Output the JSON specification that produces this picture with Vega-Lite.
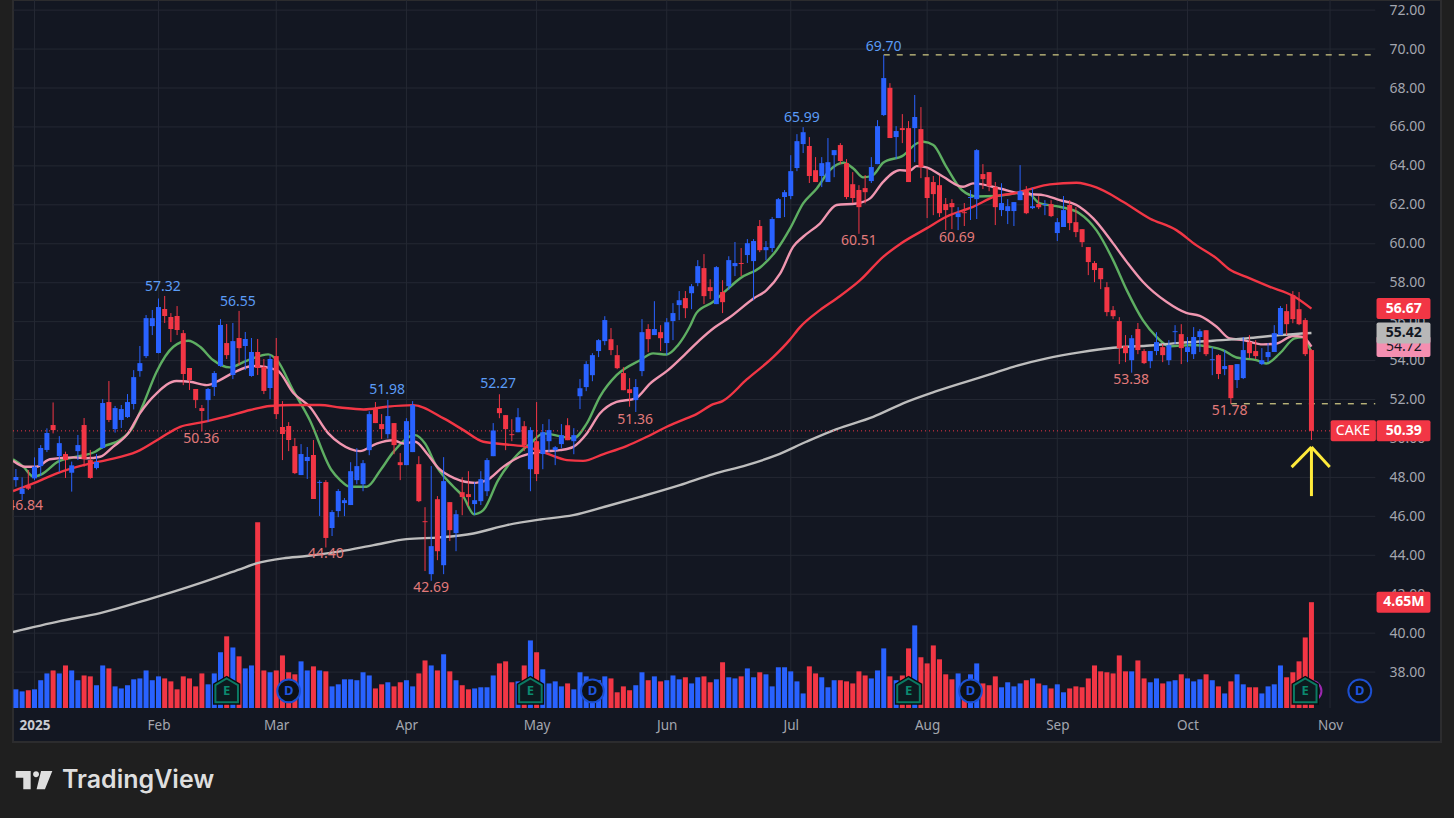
{"$schema":"https://vega.github.io/schema/vega-lite/v6.json","width":1428,"height":742,"autosize":{"type":"none"},"padding":{"left":13,"top":0,"right":13,"bottom":76},"background":"#1f1f1f","view":{"fill":"#131722","stroke":"#2c2c2e","strokeWidth":2},"config":{"scale":{"continuousPadding":0}},
"datasets":{
"bars":[
{"i":-3,"o":47.86,"h":48.43,"l":47.52,"c":48.02,"v":0.82,"s":"up"},{"i":-2,"o":47.15,"h":48.0,"l":46.84,"c":47.42,"v":0.73,"s":"up"},{"i":-1,"o":47.56,"h":48.38,"l":47.35,"c":47.42,"v":0.78,"s":"down"},{"i":0,"o":47.95,"h":49.03,"l":47.86,"c":48.55,"v":0.82,"s":"up"},{"i":1,"o":48.58,"h":49.66,"l":48.07,"c":49.51,"v":1.22,"s":"up"},{"i":2,"o":49.41,"h":50.52,"l":49.3,"c":50.28,"v":1.52,"s":"up"},{"i":3,"o":50.69,"h":51.85,"l":50.26,"c":50.43,"v":1.65,"s":"down"},{"i":4,"o":49.1,"h":50.12,"l":48.28,"c":49.76,"v":1.52,"s":"up"},{"i":5,"o":49.2,"h":49.32,"l":47.97,"c":48.89,"v":1.87,"s":"down"},{"i":6,"o":48.24,"h":48.81,"l":47.27,"c":48.62,"v":1.65,"s":"up"},{"i":7,"o":49.35,"h":50.18,"l":48.89,"c":49.66,"v":1.22,"s":"up"},{"i":8,"o":50.69,"h":51.05,"l":48.55,"c":48.94,"v":1.43,"s":"down"},{"i":9,"o":48.89,"h":49.41,"l":47.93,"c":47.97,"v":1.39,"s":"down"},{"i":10,"o":48.48,"h":49.2,"l":48.41,"c":48.79,"v":1.0,"s":"up"},{"i":11,"o":49.51,"h":52.02,"l":49.47,"c":51.82,"v":1.87,"s":"up"},{"i":12,"o":51.87,"h":52.95,"l":50.84,"c":50.95,"v":1.74,"s":"down"},{"i":13,"o":50.48,"h":51.67,"l":50.3,"c":51.56,"v":0.95,"s":"up"},{"i":14,"o":50.95,"h":51.72,"l":50.54,"c":51.51,"v":0.86,"s":"up"},{"i":15,"o":51.1,"h":52.28,"l":51.05,"c":51.87,"v":1.0,"s":"up"},{"i":16,"o":51.77,"h":53.51,"l":51.49,"c":53.15,"v":1.26,"s":"up"},{"i":17,"o":53.46,"h":54.75,"l":53.17,"c":53.87,"v":1.3,"s":"up"},{"i":18,"o":54.23,"h":56.34,"l":54.13,"c":56.18,"v":1.65,"s":"up"},{"i":19,"o":55.77,"h":56.6,"l":55.31,"c":56.18,"v":1.22,"s":"up"},{"i":20,"o":54.39,"h":57.19,"l":54.37,"c":56.75,"v":1.39,"s":"up"},{"i":21,"o":56.65,"h":57.32,"l":55.93,"c":56.29,"v":1.3,"s":"down"},{"i":22,"o":56.24,"h":56.44,"l":54.95,"c":55.62,"v":1.17,"s":"down"},{"i":23,"o":56.29,"h":56.8,"l":55.31,"c":55.57,"v":0.82,"s":"down"},{"i":24,"o":55.41,"h":55.57,"l":52.74,"c":53.31,"v":1.39,"s":"down"},{"i":25,"o":53.62,"h":53.62,"l":52.49,"c":53.0,"v":1.3,"s":"down"},{"i":26,"o":52.54,"h":52.54,"l":51.56,"c":51.97,"v":0.95,"s":"down"},{"i":27,"o":51.56,"h":51.72,"l":50.36,"c":51.41,"v":1.52,"s":"down"},{"i":28,"o":51.97,"h":52.59,"l":50.84,"c":52.54,"v":1.04,"s":"up"},{"i":29,"o":52.64,"h":53.46,"l":52.18,"c":53.36,"v":1.52,"s":"up"},{"i":30,"o":53.72,"h":56.13,"l":53.68,"c":55.83,"v":2.45,"s":"up"},{"i":31,"o":54.9,"h":55.88,"l":54.08,"c":54.28,"v":3.15,"s":"down"},{"i":32,"o":53.26,"h":55.93,"l":53.05,"c":55.0,"v":2.66,"s":"up"},{"i":33,"o":55.16,"h":56.55,"l":53.77,"c":54.64,"v":2.27,"s":"down"},{"i":34,"o":54.75,"h":55.47,"l":53.51,"c":55.11,"v":1.74,"s":"up"},{"i":35,"o":53.21,"h":55.16,"l":53.17,"c":54.44,"v":1.87,"s":"up"},{"i":36,"o":54.44,"h":55.11,"l":53.26,"c":53.62,"v":8.16,"s":"down"},{"i":37,"o":53.67,"h":54.08,"l":52.28,"c":52.44,"v":1.65,"s":"down"},{"i":38,"o":52.59,"h":54.28,"l":52.02,"c":54.08,"v":1.57,"s":"up"},{"i":39,"o":54.23,"h":55.16,"l":51.0,"c":51.25,"v":1.65,"s":"down"},{"i":40,"o":50.59,"h":51.92,"l":48.89,"c":50.23,"v":2.31,"s":"down"},{"i":41,"o":50.64,"h":50.84,"l":49.35,"c":49.92,"v":1.57,"s":"down"},{"i":42,"o":49.61,"h":50.02,"l":48.17,"c":48.22,"v":1.48,"s":"down"},{"i":43,"o":48.12,"h":49.71,"l":48.12,"c":49.2,"v":2.05,"s":"up"},{"i":44,"o":48.84,"h":49.56,"l":47.92,"c":49.05,"v":1.65,"s":"up"},{"i":45,"o":49.15,"h":49.92,"l":46.89,"c":46.89,"v":1.83,"s":"down"},{"i":46,"o":47.72,"h":47.86,"l":46.02,"c":47.77,"v":1.65,"s":"up"},{"i":47,"o":47.76,"h":47.86,"l":44.4,"c":44.89,"v":1.61,"s":"down"},{"i":48,"o":45.4,"h":46.32,"l":44.99,"c":46.22,"v":0.95,"s":"up"},{"i":49,"o":46.27,"h":47.4,"l":45.96,"c":47.3,"v":1.04,"s":"up"},
{"i":50,"o":46.68,"h":46.94,"l":46.01,"c":46.83,"v":1.26,"s":"up"},{"i":51,"o":46.58,"h":48.78,"l":46.58,"c":48.32,"v":1.26,"s":"up"},{"i":52,"o":47.86,"h":49.5,"l":47.65,"c":48.58,"v":1.22,"s":"up"},{"i":53,"o":47.65,"h":48.89,"l":47.29,"c":48.73,"v":1.57,"s":"up"},{"i":54,"o":49.4,"h":51.4,"l":49.14,"c":51.25,"v":1.43,"s":"up"},{"i":55,"o":51.51,"h":51.87,"l":50.79,"c":50.79,"v":0.86,"s":"down"},{"i":56,"o":50.74,"h":51.25,"l":49.97,"c":50.48,"v":1.04,"s":"down"},{"i":57,"o":50.22,"h":51.98,"l":50.0,"c":51.15,"v":1.13,"s":"up"},{"i":58,"o":50.79,"h":50.79,"l":49.19,"c":49.66,"v":0.95,"s":"down"},{"i":59,"o":48.78,"h":49.25,"l":47.86,"c":48.63,"v":1.13,"s":"down"},{"i":60,"o":48.63,"h":51.04,"l":48.63,"c":50.89,"v":1.22,"s":"up"},{"i":61,"o":49.3,"h":51.92,"l":49.3,"c":51.71,"v":0.95,"s":"up"},{"i":62,"o":48.68,"h":49.09,"l":46.73,"c":46.78,"v":1.52,"s":"down"},{"i":63,"o":45.75,"h":46.47,"l":43.19,"c":45.7,"v":2.09,"s":"down"},{"i":64,"o":43.03,"h":48.58,"l":42.69,"c":44.47,"v":1.87,"s":"up"},{"i":65,"o":46.88,"h":47.04,"l":43.75,"c":44.21,"v":1.65,"s":"down"},{"i":66,"o":43.49,"h":49.04,"l":43.03,"c":47.81,"v":2.36,"s":"up"},{"i":67,"o":46.73,"h":46.73,"l":44.73,"c":45.29,"v":1.61,"s":"down"},{"i":68,"o":45.14,"h":46.32,"l":44.21,"c":46.11,"v":1.22,"s":"up"},{"i":69,"o":47.24,"h":48.01,"l":46.06,"c":46.99,"v":1.0,"s":"down"},{"i":70,"o":47.14,"h":48.32,"l":46.52,"c":46.99,"v":0.82,"s":"down"},{"i":71,"o":46.63,"h":47.76,"l":46.06,"c":46.83,"v":0.86,"s":"up"},{"i":72,"o":46.78,"h":48.32,"l":46.58,"c":47.91,"v":0.91,"s":"up"},{"i":73,"o":47.29,"h":48.99,"l":47.04,"c":48.89,"v":0.91,"s":"up"},{"i":74,"o":49.09,"h":50.79,"l":49.09,"c":50.41,"v":1.43,"s":"up"},{"i":75,"o":51.56,"h":52.27,"l":51.04,"c":51.3,"v":1.96,"s":"down"},{"i":76,"o":51.2,"h":51.2,"l":49.4,"c":50.48,"v":2.05,"s":"down"},{"i":77,"o":50.22,"h":50.99,"l":49.86,"c":50.17,"v":1.13,"s":"down"},{"i":78,"o":50.32,"h":51.56,"l":50.32,"c":51.09,"v":1.17,"s":"up"},{"i":79,"o":50.63,"h":50.89,"l":49.35,"c":49.66,"v":1.87,"s":"down"},{"i":80,"o":48.42,"h":50.58,"l":47.29,"c":50.43,"v":2.97,"s":"up"},{"i":81,"o":49.86,"h":51.87,"l":47.81,"c":48.17,"v":2.45,"s":"down"},{"i":82,"o":49.2,"h":50.74,"l":48.42,"c":50.32,"v":1.7,"s":"up"},{"i":83,"o":49.86,"h":50.99,"l":49.3,"c":50.43,"v":1.08,"s":"up"},{"i":84,"o":49.4,"h":49.61,"l":48.63,"c":49.55,"v":1.17,"s":"up"},{"i":85,"o":49.71,"h":50.74,"l":49.5,"c":50.17,"v":0.95,"s":"up"},{"i":86,"o":50.68,"h":51.04,"l":49.91,"c":49.91,"v":1.08,"s":"down"},{"i":87,"o":49.86,"h":50.53,"l":49.19,"c":50.17,"v":0.82,"s":"up"},{"i":88,"o":52.17,"h":53.05,"l":51.51,"c":52.58,"v":1.57,"s":"up"},{"i":89,"o":52.64,"h":53.97,"l":52.43,"c":53.82,"v":1.39,"s":"up"},{"i":90,"o":53.25,"h":54.38,"l":52.94,"c":54.28,"v":1.26,"s":"up"},{"i":91,"o":54.49,"h":55.1,"l":54.18,"c":55.05,"v":1.22,"s":"up"},{"i":92,"o":55.0,"h":56.28,"l":54.79,"c":56.08,"v":1.39,"s":"up"},{"i":93,"o":55.1,"h":55.67,"l":54.28,"c":54.54,"v":1.3,"s":"down"},{"i":94,"o":54.28,"h":54.79,"l":53.56,"c":53.61,"v":0.69,"s":"down"},{"i":95,"o":53.36,"h":53.66,"l":52.48,"c":52.48,"v":0.95,"s":"down"},{"i":96,"o":52.53,"h":53.1,"l":51.63,"c":52.33,"v":0.78,"s":"down"},{"i":97,"o":51.97,"h":53.05,"l":51.36,"c":52.64,"v":1.0,"s":"up"},{"i":98,"o":53.46,"h":56.13,"l":53.2,"c":55.46,"v":1.57,"s":"up"},{"i":99,"o":55.62,"h":55.87,"l":54.43,"c":55.1,"v":1.22,"s":"down"},
{"i":100,"o":55.31,"h":57.05,"l":55.31,"c":55.62,"v":1.39,"s":"up"},{"i":101,"o":55.46,"h":55.82,"l":54.49,"c":55.15,"v":1.17,"s":"down"},{"i":102,"o":54.9,"h":56.18,"l":54.28,"c":55.97,"v":1.22,"s":"up"},{"i":103,"o":56.03,"h":56.95,"l":55.05,"c":56.44,"v":1.43,"s":"up"},{"i":104,"o":56.85,"h":57.57,"l":56.08,"c":57.1,"v":1.26,"s":"up"},{"i":105,"o":57.21,"h":57.57,"l":56.18,"c":56.69,"v":1.35,"s":"down"},{"i":106,"o":57.46,"h":57.93,"l":56.64,"c":57.82,"v":1.08,"s":"up"},{"i":107,"o":57.98,"h":59.16,"l":57.82,"c":58.85,"v":1.35,"s":"up"},{"i":108,"o":58.75,"h":59.47,"l":56.9,"c":57.31,"v":1.39,"s":"down"},{"i":109,"o":57.77,"h":58.18,"l":57.16,"c":57.57,"v":1.13,"s":"down"},{"i":110,"o":56.9,"h":58.85,"l":56.9,"c":58.8,"v":1.26,"s":"up"},{"i":111,"o":57.52,"h":58.13,"l":56.44,"c":57.0,"v":2.01,"s":"down"},{"i":112,"o":57.82,"h":59.36,"l":57.62,"c":59.16,"v":1.35,"s":"up"},{"i":113,"o":58.85,"h":60.09,"l":58.34,"c":59.01,"v":1.3,"s":"up"},{"i":114,"o":59.01,"h":59.78,"l":58.34,"c":58.96,"v":1.39,"s":"down"},{"i":115,"o":59.42,"h":60.24,"l":59.01,"c":60.03,"v":1.74,"s":"up"},{"i":116,"o":59.11,"h":60.24,"l":57.1,"c":60.14,"v":1.35,"s":"up"},{"i":117,"o":60.91,"h":61.22,"l":59.57,"c":59.67,"v":1.57,"s":"down"},{"i":118,"o":59.67,"h":60.14,"l":59.16,"c":59.83,"v":1.48,"s":"up"},{"i":119,"o":59.78,"h":61.37,"l":59.57,"c":61.27,"v":0.95,"s":"up"},{"i":120,"o":61.32,"h":62.35,"l":61.32,"c":62.29,"v":1.79,"s":"up"},{"i":121,"o":62.4,"h":62.76,"l":61.37,"c":62.65,"v":1.79,"s":"up"},{"i":122,"o":62.45,"h":64.55,"l":62.29,"c":63.73,"v":1.61,"s":"up"},{"i":123,"o":63.89,"h":65.63,"l":63.73,"c":65.27,"v":1.17,"s":"up"},{"i":124,"o":65.12,"h":65.99,"l":64.66,"c":65.73,"v":0.64,"s":"up"},{"i":125,"o":65.02,"h":65.48,"l":63.12,"c":63.48,"v":1.83,"s":"down"},{"i":126,"o":63.78,"h":64.45,"l":63.17,"c":63.17,"v":1.52,"s":"down"},{"i":127,"o":63.48,"h":64.45,"l":62.91,"c":64.14,"v":1.35,"s":"up"},{"i":128,"o":63.17,"h":65.43,"l":63.17,"c":64.19,"v":0.91,"s":"up"},{"i":129,"o":64.55,"h":64.81,"l":63.42,"c":64.81,"v":1.22,"s":"up"},{"i":130,"o":65.07,"h":65.17,"l":64.09,"c":64.25,"v":1.22,"s":"down"},{"i":131,"o":64.14,"h":64.35,"l":62.29,"c":62.4,"v":1.17,"s":"down"},{"i":132,"o":63.06,"h":63.68,"l":62.09,"c":62.35,"v":1.08,"s":"down"},{"i":133,"o":62.76,"h":63.01,"l":60.51,"c":61.88,"v":1.61,"s":"down"},{"i":134,"o":62.86,"h":63.53,"l":62.07,"c":62.65,"v":1.43,"s":"down"},{"i":135,"o":63.22,"h":64.45,"l":63.12,"c":63.94,"v":1.3,"s":"up"},{"i":136,"o":64.09,"h":66.35,"l":64.09,"c":66.04,"v":1.65,"s":"up"},{"i":137,"o":66.61,"h":69.7,"l":66.56,"c":68.51,"v":2.62,"s":"up"},{"i":138,"o":68.01,"h":68.25,"l":65.43,"c":65.43,"v":1.39,"s":"down"},{"i":139,"o":65.48,"h":66.04,"l":64.35,"c":65.79,"v":1.22,"s":"up"},{"i":140,"o":65.94,"h":66.66,"l":65.17,"c":65.84,"v":1.43,"s":"down"},{"i":141,"o":65.94,"h":66.3,"l":63.17,"c":63.17,"v":2.62,"s":"down"},{"i":142,"o":65.94,"h":67.64,"l":64.19,"c":66.51,"v":3.63,"s":"up"},{"i":143,"o":65.89,"h":67.02,"l":63.37,"c":63.94,"v":2.23,"s":"down"},{"i":144,"o":63.42,"h":63.89,"l":61.32,"c":62.35,"v":1.96,"s":"down"},{"i":145,"o":63.17,"h":63.48,"l":61.47,"c":62.55,"v":2.75,"s":"down"},{"i":146,"o":63.01,"h":63.48,"l":61.37,"c":61.57,"v":2.14,"s":"down"},{"i":147,"o":62.04,"h":62.35,"l":60.7,"c":61.73,"v":1.48,"s":"down"},{"i":148,"o":62.09,"h":62.29,"l":60.75,"c":61.88,"v":1.26,"s":"down"},{"i":149,"o":61.37,"h":61.88,"l":60.7,"c":61.57,"v":1.52,"s":"up"},{"i":150,"o":61.62,"h":62.09,"l":60.91,"c":61.57,"v":1.0,"s":"down"},{"i":151,"o":62.35,"h":62.76,"l":61.22,"c":62.4,"v":1.48,"s":"up"},{"i":152,"o":62.29,"h":64.86,"l":61.27,"c":64.81,"v":1.96,"s":"up"},{"i":153,"o":63.58,"h":64.09,"l":62.81,"c":63.32,"v":1.08,"s":"down"},{"i":154,"o":63.68,"h":63.68,"l":62.7,"c":62.96,"v":1.0,"s":"down"},{"i":155,"o":62.91,"h":63.17,"l":60.96,"c":61.88,"v":1.39,"s":"down"},{"i":156,"o":61.73,"h":63.11,"l":61.42,"c":62.09,"v":0.91,"s":"up"},{"i":157,"o":61.68,"h":62.29,"l":61.01,"c":61.93,"v":1.13,"s":"up"},{"i":158,"o":61.68,"h":62.14,"l":60.91,"c":62.14,"v":0.95,"s":"up"},{"i":159,"o":62.24,"h":64.04,"l":62.24,"c":62.7,"v":1.08,"s":"up"},{"i":160,"o":62.76,"h":62.96,"l":61.52,"c":61.57,"v":1.22,"s":"down"},{"i":161,"o":61.83,"h":62.86,"l":61.78,"c":61.93,"v":1.3,"s":"up"},{"i":162,"o":62.04,"h":62.45,"l":61.78,"c":61.88,"v":1.08,"s":"down"},{"i":163,"o":61.99,"h":62.24,"l":61.47,"c":62.04,"v":1.0,"s":"up"},{"i":164,"o":62.04,"h":62.24,"l":61.37,"c":61.42,"v":0.86,"s":"down"},{"i":165,"o":60.55,"h":61.32,"l":60.14,"c":61.11,"v":1.04,"s":"up"},{"i":166,"o":60.86,"h":62.45,"l":60.86,"c":61.73,"v":0.69,"s":"up"},{"i":167,"o":61.99,"h":62.24,"l":60.7,"c":61.06,"v":0.86,"s":"down"},{"i":168,"o":61.11,"h":61.88,"l":60.34,"c":60.6,"v":0.95,"s":"down"},{"i":169,"o":60.75,"h":60.75,"l":59.83,"c":60.08,"v":0.91,"s":"down"},{"i":170,"o":59.83,"h":59.83,"l":58.39,"c":59.06,"v":1.3,"s":"down"},{"i":171,"o":59.01,"h":59.11,"l":58.03,"c":58.65,"v":1.87,"s":"down"},{"i":172,"o":58.75,"h":58.75,"l":57.67,"c":58.18,"v":1.61,"s":"down"},{"i":173,"o":57.77,"h":58.03,"l":56.28,"c":56.49,"v":1.57,"s":"down"},{"i":174,"o":56.59,"h":56.8,"l":56.13,"c":56.28,"v":1.52,"s":"down"},{"i":175,"o":56.03,"h":56.23,"l":53.82,"c":54.64,"v":2.31,"s":"down"},{"i":176,"o":54.74,"h":55.31,"l":53.92,"c":54.38,"v":1.61,"s":"down"},{"i":177,"o":54.02,"h":55.31,"l":53.38,"c":55.15,"v":1.61,"s":"up"},{"i":178,"o":55.62,"h":55.93,"l":54.33,"c":54.54,"v":2.09,"s":"down"},{"i":179,"o":54.49,"h":54.59,"l":53.82,"c":53.87,"v":1.3,"s":"down"},{"i":180,"o":53.97,"h":54.49,"l":53.61,"c":54.49,"v":1.13,"s":"up"},{"i":181,"o":54.49,"h":55.46,"l":54.28,"c":54.95,"v":1.3,"s":"up"},{"i":182,"o":54.69,"h":54.85,"l":53.92,"c":54.28,"v":1.08,"s":"down"},{"i":183,"o":54.02,"h":55.05,"l":53.77,"c":54.79,"v":1.17,"s":"up"},{"i":184,"o":55.46,"h":55.82,"l":54.85,"c":55.51,"v":1.22,"s":"up"},{"i":185,"o":55.36,"h":55.87,"l":53.82,"c":54.64,"v":1.48,"s":"down"},{"i":186,"o":54.44,"h":55.21,"l":53.92,"c":54.69,"v":1.3,"s":"up"},{"i":187,"o":54.33,"h":55.72,"l":54.08,"c":55.21,"v":1.17,"s":"up"},{"i":188,"o":55.21,"h":55.62,"l":54.44,"c":55.51,"v":1.26,"s":"up"},{"i":189,"o":55.56,"h":55.56,"l":54.23,"c":54.33,"v":1.48,"s":"down"},{"i":190,"o":54.02,"h":54.69,"l":53.25,"c":54.07,"v":1.22,"s":"up"},{"i":191,"o":54.28,"h":54.33,"l":53.05,"c":53.31,"v":0.95,"s":"down"},{"i":192,"o":53.56,"h":54.54,"l":53.25,"c":53.72,"v":0.64,"s":"up"},{"i":193,"o":53.77,"h":53.77,"l":51.78,"c":52.07,"v":1.17,"s":"down"},{"i":194,"o":53.0,"h":53.82,"l":52.59,"c":53.82,"v":1.48,"s":"up"},{"i":195,"o":53.1,"h":55.21,"l":53.05,"c":54.54,"v":1.04,"s":"up"},{"i":196,"o":54.95,"h":55.31,"l":54.13,"c":54.38,"v":0.91,"s":"down"},{"i":197,"o":54.49,"h":55.05,"l":54.08,"c":54.23,"v":0.91,"s":"down"},{"i":198,"o":53.82,"h":54.64,"l":53.77,"c":54.02,"v":0.64,"s":"up"},{"i":199,"o":54.18,"h":54.9,"l":53.92,"c":54.44,"v":0.95,"s":"up"},{"i":200,"o":54.44,"h":55.82,"l":54.44,"c":55.41,"v":1.04,"s":"up"},{"i":201,"o":55.31,"h":56.8,"l":55.31,"c":56.7,"v":1.87,"s":"up"},{"i":202,"o":56.54,"h":56.9,"l":55.31,"c":55.87,"v":1.35,"s":"down"},{"i":203,"o":57.36,"h":57.57,"l":55.92,"c":56.13,"v":1.57,"s":"down"},{"i":204,"o":56.64,"h":57.52,"l":55.82,"c":55.87,"v":2.05,"s":"down"},{"i":205,"o":56.08,"h":56.18,"l":54.23,"c":54.33,"v":3.1,"s":"down"},{"i":206,"o":54.54,"h":54.59,"l":49.92,"c":50.39,"v":4.65,"s":"down"}],
"lines":[
{"s":"ema10","i":-3.47,"p":48.93},{"s":"ema10","i":-1.8,"p":48.55},{"s":"ema10","i":-0.2,"p":48.04},{"s":"ema10","i":1.2,"p":48.17},{"s":"ema10","i":3.8,"p":48.81},{"s":"ema10","i":6.8,"p":49.06},{"s":"ema10","i":9.8,"p":49.32},{"s":"ema10","i":11.1,"p":49.58},{"s":"ema10","i":13.8,"p":49.92},{"s":"ema10","i":15.9,"p":50.6},{"s":"ema10","i":17.6,"p":51.8},{"s":"ema10","i":19.7,"p":53.43},{"s":"ema10","i":22.4,"p":54.71},{"s":"ema10","i":24.8,"p":55.02},{"s":"ema10","i":26.7,"p":54.71},{"s":"ema10","i":28.8,"p":54.03},{"s":"ema10","i":31.5,"p":53.65},{"s":"ema10","i":34.2,"p":53.99},{"s":"ema10","i":37.7,"p":54.32},{"s":"ema10","i":39.1,"p":54.03},{"s":"ema10","i":41.7,"p":52.49},{"s":"ema10","i":44.4,"p":50.95},{"s":"ema10","i":47.9,"p":48.38},{"s":"ema10","i":49.3,"p":47.86},{"s":"ema10","i":50.9,"p":47.52},{"s":"ema10","i":53.6,"p":47.52},{"s":"ema10","i":55.8,"p":48.37},{"s":"ema10","i":57.9,"p":49.31},{"s":"ema10","i":61.4,"p":50.17},{"s":"ema10","i":63,"p":49.74},{"s":"ema10","i":64.9,"p":48.54},{"s":"ema10","i":67.6,"p":47.52},{"s":"ema10","i":69.2,"p":47.0},{"s":"ema10","i":70.9,"p":46.11},{"s":"ema10","i":72.4,"p":46.32},{"s":"ema10","i":74.8,"p":47.86},{"s":"ema10","i":77.8,"p":49.14},{"s":"ema10","i":80,"p":49.74},{"s":"ema10","i":82.1,"p":50.26},{"s":"ema10","i":84.8,"p":50.12},{"s":"ema10","i":86.9,"p":50.0},{"s":"ema10","i":89.1,"p":50.77},{"s":"ema10","i":91.2,"p":52.14},{"s":"ema10","i":93.9,"p":53.25},{"s":"ema10","i":97.7,"p":54.02},{"s":"ema10","i":99.8,"p":54.37},{"s":"ema10","i":102,"p":54.31},{"s":"ema10","i":103.8,"p":54.79},{"s":"ema10","i":105.7,"p":55.74},{"s":"ema10","i":106.8,"p":56.45},{"s":"ema10","i":109.5,"p":57.02},{"s":"ema10","i":111.9,"p":57.7},{"s":"ema10","i":113.8,"p":58.22},{"s":"ema10","i":117,"p":58.77},{"s":"ema10","i":119.7,"p":59.67},{"s":"ema10","i":121.9,"p":60.79},{"s":"ema10","i":124,"p":62.07},{"s":"ema10","i":126.2,"p":62.84},{"s":"ema10","i":128.3,"p":63.78},{"s":"ema10","i":130.5,"p":64.16},{"s":"ema10","i":132.1,"p":63.87},{"s":"ema10","i":133.7,"p":63.41},{"s":"ema10","i":135.3,"p":63.53},{"s":"ema10","i":136.9,"p":64.16},{"s":"ema10","i":140.2,"p":64.55},{"s":"ema10","i":142.3,"p":65.15},{"s":"ema10","i":143.4,"p":65.24},{"s":"ema10","i":145,"p":65.07},{"s":"ema10","i":147.1,"p":63.95},{"s":"ema10","i":149.6,"p":62.76},{"s":"ema10","i":152,"p":62.43},{"s":"ema10","i":155.2,"p":62.45},{"s":"ema10","i":157.9,"p":62.58},{"s":"ema10","i":160,"p":62.67},{"s":"ema10","i":162.2,"p":62.07},{"s":"ema10","i":165.4,"p":61.9},{"s":"ema10","i":168.6,"p":61.56},{"s":"ema10","i":171.3,"p":60.7},{"s":"ema10","i":174,"p":59.16},{"s":"ema10","i":176.2,"p":57.62},{"s":"ema10","i":178.8,"p":56.08},{"s":"ema10","i":181,"p":55.22},{"s":"ema10","i":183.1,"p":54.74},{"s":"ema10","i":186.9,"p":54.8},{"s":"ema10","i":189.6,"p":54.71},{"s":"ema10","i":191.7,"p":54.54},{"s":"ema10","i":193.9,"p":54.16},{"s":"ema10","i":197.1,"p":54.02},{"s":"ema10","i":198.7,"p":53.85},{"s":"ema10","i":200.9,"p":54.37},{"s":"ema10","i":203.3,"p":55.14},{"s":"ema10","i":204.6,"p":55.19},{"s":"ema10","i":206,"p":54.4},
{"s":"ema21","i":-3.47,"p":48.86},{"s":"ema21","i":-1.5,"p":48.55},{"s":"ema21","i":0.3,"p":48.55},{"s":"ema21","i":2.5,"p":48.93},{"s":"ema21","i":6.3,"p":49.03},{"s":"ema21","i":8.4,"p":48.98},{"s":"ema21","i":10.6,"p":49.06},{"s":"ema21","i":12.7,"p":49.58},{"s":"ema21","i":15.1,"p":50.26},{"s":"ema21","i":17,"p":51.29},{"s":"ema21","i":19.7,"p":52.32},{"s":"ema21","i":22.9,"p":52.95},{"s":"ema21","i":25.1,"p":52.91},{"s":"ema21","i":27.8,"p":52.74},{"s":"ema21","i":29.9,"p":53.0},{"s":"ema21","i":32.1,"p":53.38},{"s":"ema21","i":35.3,"p":53.72},{"s":"ema21","i":39.1,"p":53.51},{"s":"ema21","i":41.8,"p":52.32},{"s":"ema21","i":44.4,"p":51.63},{"s":"ema21","i":47.4,"p":50.26},{"s":"ema21","i":49.3,"p":49.74},{"s":"ema21","i":52.5,"p":49.35},{"s":"ema21","i":55.2,"p":49.74},{"s":"ema21","i":57.9,"p":49.91},{"s":"ema21","i":59.5,"p":49.74},{"s":"ema21","i":61.4,"p":49.83},{"s":"ema21","i":63.3,"p":49.23},{"s":"ema21","i":65.2,"p":48.46},{"s":"ema21","i":67.8,"p":47.95},{"s":"ema21","i":71.1,"p":47.72},{"s":"ema21","i":73,"p":47.86},{"s":"ema21","i":75.6,"p":48.54},{"s":"ema21","i":78.3,"p":49.06},{"s":"ema21","i":81.6,"p":49.31},{"s":"ema21","i":84.8,"p":49.4},{"s":"ema21","i":86.9,"p":49.57},{"s":"ema21","i":89.1,"p":50.26},{"s":"ema21","i":91.2,"p":51.28},{"s":"ema21","i":93.9,"p":51.88},{"s":"ema21","i":96.9,"p":52.05},{"s":"ema21","i":99.3,"p":52.82},{"s":"ema21","i":102.2,"p":53.51},{"s":"ema21","i":105.1,"p":54.37},{"s":"ema21","i":107.3,"p":55.05},{"s":"ema21","i":109.7,"p":55.7},{"s":"ema21","i":112.1,"p":56.21},{"s":"ema21","i":116,"p":57.19},{"s":"ema21","i":118.1,"p":57.62},{"s":"ema21","i":120.3,"p":58.48},{"s":"ema21","i":122.4,"p":59.85},{"s":"ema21","i":124,"p":60.36},{"s":"ema21","i":126.7,"p":61.04},{"s":"ema21","i":129.4,"p":61.99},{"s":"ema21","i":132.6,"p":62.07},{"s":"ema21","i":134.8,"p":62.33},{"s":"ema21","i":136.9,"p":63.18},{"s":"ema21","i":139.6,"p":63.78},{"s":"ema21","i":141.2,"p":63.75},{"s":"ema21","i":142.3,"p":63.99},{"s":"ema21","i":143.9,"p":63.92},{"s":"ema21","i":146.6,"p":63.44},{"s":"ema21","i":149.8,"p":62.93},{"s":"ema21","i":151.4,"p":63.1},{"s":"ema21","i":155.7,"p":62.84},{"s":"ema21","i":159,"p":62.58},{"s":"ema21","i":162.7,"p":62.5},{"s":"ema21","i":165.4,"p":62.24},{"s":"ema21","i":168.1,"p":61.99},{"s":"ema21","i":170.8,"p":61.3},{"s":"ema21","i":174,"p":60.02},{"s":"ema21","i":176.2,"p":59.07},{"s":"ema21","i":178.8,"p":58.05},{"s":"ema21","i":182.6,"p":57.02},{"s":"ema21","i":185.8,"p":56.45},{"s":"ema21","i":188,"p":56.3},{"s":"ema21","i":190.7,"p":55.74},{"s":"ema21","i":192.8,"p":55.14},{"s":"ema21","i":195,"p":55.05},{"s":"ema21","i":198.2,"p":54.83},{"s":"ema21","i":200.4,"p":54.88},{"s":"ema21","i":203,"p":55.26},{"s":"ema21","i":204.6,"p":55.22},{"s":"ema21","i":206,"p":54.72},
{"s":"ema50","i":-3.47,"p":47.3},{"s":"ema50","i":-0.2,"p":47.69},{"s":"ema50","i":3.6,"p":48.21},{"s":"ema50","i":7.9,"p":48.63},{"s":"ema50","i":11.6,"p":48.89},{"s":"ema50","i":16.5,"p":49.32},{"s":"ema50","i":20.2,"p":50.0},{"s":"ema50","i":23.5,"p":50.6},{"s":"ema50","i":26.7,"p":50.81},{"s":"ema50","i":30.9,"p":51.12},{"s":"ema50","i":34.8,"p":51.46},{"s":"ema50","i":38,"p":51.67},{"s":"ema50","i":41.7,"p":51.72},{"s":"ema50","i":46,"p":51.72},{"s":"ema50","i":49.3,"p":51.59},{"s":"ema50","i":53.1,"p":51.49},{"s":"ema50","i":56.8,"p":51.63},{"s":"ema50","i":61.1,"p":51.71},{"s":"ema50","i":66,"p":51.03},{"s":"ema50","i":69.2,"p":50.43},{"s":"ema50","i":72.4,"p":49.83},{"s":"ema50","i":76.2,"p":49.69},{"s":"ema50","i":79.4,"p":49.57},{"s":"ema50","i":82.6,"p":49.23},{"s":"ema50","i":85.9,"p":48.89},{"s":"ema50","i":88.5,"p":48.85},{"s":"ema50","i":91.8,"p":49.2},{"s":"ema50","i":95.5,"p":49.61},{"s":"ema50","i":98.8,"p":50.09},{"s":"ema50","i":102,"p":50.6},{"s":"ema50","i":104.1,"p":50.89},{"s":"ema50","i":106.8,"p":51.25},{"s":"ema50","i":109.5,"p":51.76},{"s":"ema50","i":111,"p":51.92},{"s":"ema50","i":114.9,"p":53.03},{"s":"ema50","i":119.2,"p":54.19},{"s":"ema50","i":121.8,"p":55.05},{"s":"ema50","i":123.5,"p":55.72},{"s":"ema50","i":126.7,"p":56.59},{"s":"ema50","i":129.4,"p":57.19},{"s":"ema50","i":133.2,"p":58.13},{"s":"ema50","i":136.9,"p":59.33},{"s":"ema50","i":139.6,"p":59.98},{"s":"ema50","i":143.9,"p":60.79},{"s":"ema50","i":147.1,"p":61.39},{"s":"ema50","i":151.4,"p":61.9},{"s":"ema50","i":155.2,"p":62.46},{"s":"ema50","i":157.9,"p":62.58},{"s":"ema50","i":160.6,"p":62.81},{"s":"ema50","i":163.8,"p":63.05},{"s":"ema50","i":168.1,"p":63.13},{"s":"ema50","i":171.3,"p":62.89},{"s":"ema50","i":175.6,"p":62.16},{"s":"ema50","i":179.9,"p":61.3},{"s":"ema50","i":184.2,"p":60.7},{"s":"ema50","i":187.4,"p":59.93},{"s":"ema50","i":190.7,"p":59.25},{"s":"ema50","i":192.8,"p":58.68},{"s":"ema50","i":195.5,"p":58.3},{"s":"ema50","i":199.3,"p":57.79},{"s":"ema50","i":203,"p":57.33},{"s":"ema50","i":206,"p":56.67},
{"s":"ema200","i":-3.47,"p":40.06},{"s":"ema200","i":4.1,"p":40.62},{"s":"ema200","i":10.6,"p":41.03},{"s":"ema200","i":18,"p":41.7},{"s":"ema200","i":26.7,"p":42.57},{"s":"ema200","i":33.1,"p":43.28},{"s":"ema200","i":35.8,"p":43.58},{"s":"ema200","i":40.1,"p":43.84},{"s":"ema200","i":43.9,"p":43.96},{"s":"ema200","i":49.3,"p":44.2},{"s":"ema200","i":54.7,"p":44.52},{"s":"ema200","i":60,"p":44.83},{"s":"ema200","i":65.4,"p":44.92},{"s":"ema200","i":70.8,"p":45.12},{"s":"ema200","i":76.2,"p":45.55},{"s":"ema200","i":81.6,"p":45.84},{"s":"ema200","i":86.9,"p":46.06},{"s":"ema200","i":92.3,"p":46.52},{"s":"ema200","i":97.7,"p":47.0},{"s":"ema200","i":104.1,"p":47.6},{"s":"ema200","i":109.5,"p":48.17},{"s":"ema200","i":114.9,"p":48.63},{"s":"ema200","i":119.7,"p":49.14},{"s":"ema200","i":124.5,"p":49.83},{"s":"ema200","i":129.4,"p":50.48},{"s":"ema200","i":135.3,"p":51.11},{"s":"ema200","i":140.7,"p":51.88},{"s":"ema200","i":145.5,"p":52.43},{"s":"ema200","i":154.1,"p":53.29},{"s":"ema200","i":157.9,"p":53.68},{"s":"ema200","i":163.3,"p":54.11},{"s":"ema200","i":168.6,"p":54.42},{"s":"ema200","i":174,"p":54.66},{"s":"ema200","i":179.4,"p":54.76},{"s":"ema200","i":184.8,"p":54.91},{"s":"ema200","i":190.1,"p":55.02},{"s":"ema200","i":195.5,"p":55.14},{"s":"ema200","i":200.9,"p":55.31},{"s":"ema200","i":206,"p":55.42}],
"labels":[{"t":"69.70","i":137,"p":70.1,"s":"hi"},{"t":"65.99","i":123.8,"p":66.46,"s":"hi"},{"t":"60.51","i":133,"p":60.14,"s":"lo"},{"t":"60.69","i":148.8,"p":60.29,"s":"lo"},{"t":"57.32","i":20.7,"p":57.78,"s":"hi"},{"t":"56.55","i":32.8,"p":57.01,"s":"hi"},{"t":"50.36","i":26.9,"p":49.97,"s":"lo"},{"t":"46.84","i":-1.5,"p":46.53,"s":"lo"},{"t":"44.40","i":47,"p":44.06,"s":"lo"},{"t":"42.69","i":64,"p":42.32,"s":"lo"},{"t":"51.98","i":56.9,"p":52.49,"s":"hi"},{"t":"52.27","i":74.8,"p":52.79,"s":"hi"},{"t":"51.36","i":96.9,"p":50.95,"s":"lo"},{"t":"53.38","i":176.9,"p":53.0,"s":"lo"},{"t":"51.78","i":192.8,"p":51.41,"s":"lo"}],
"tags":[{"t":"56.67","p":56.67,"s":"tagRed"},{"t":"54.72","p":54.72,"s":"tagPink"},{"t":"55.42","p":55.42,"s":"tagGrey"},{"t":"50.39","p":50.39,"s":"tagRed"}],
"prices":[{"p":38},{"p":40},{"p":42},{"p":44},{"p":46},{"p":48},{"p":50},{"p":52},{"p":54},{"p":56},{"p":58},{"p":60},{"p":62},{"p":64},{"p":66},{"p":68},{"p":70},{"p":72}],
"months":[{"i":0},{"i":20},{"i":39},{"i":60},{"i":81},{"i":102},{"i":122},{"i":144},{"i":165},{"i":186},{"i":209}],
"levels":[{"p":69.7,"a":137,"b":216.3},{"p":51.78,"a":193,"b":216.3}],
"arrow":[{"a":206,"b":206,"p":49.56,"q":47.04},{"a":202.8,"b":206,"p":48.53,"q":49.56},{"a":208.95,"b":206,"p":48.53,"q":49.56}],
"badges":[{"i":31,"k":"E"},{"i":80,"k":"E"},{"i":141,"k":"E"},{"i":205,"k":"E"},{"i":41,"k":"D"},{"i":90,"k":"D"},{"i":151,"k":"D"},{"i":213.8,"k":"D"}]
},
"resolve":{"scale":{"y":"independent"}},
"layer":[
{"layer":[
{"data":{"name":"prices"},"mark":{"type":"rule","color":"#242833","strokeWidth":1},"encoding":{"y":{"field":"p","type":"quantitative","scale":{"domain":[34.41,72.52],"nice":false,"zero":false},"axis":{"orient":"right","offset":-68,"values":[38,40,42,44,46,48,50,52,54,56,58,60,62,64,66,68,70,72],"format":".2f","title":null,"grid":false,"ticks":false,"domain":false,"labelFont":"Noto Sans","labelFontSize":14,"labelColor":"#a3a6af","labelPadding":16,"labelAlign":"left"}},"x":{"datum":-3.47,"scale":{"domain":[-3.47,226.9],"nice":false,"zero":false},"axis":{"orient":"bottom","offset":-34,"values":[0,20,39,60,81,102,122,144,165,186,209],"labelExpr":"{'0':'2025','20':'Feb','39':'Mar','60':'Apr','81':'May','102':'Jun','122':'Jul','144':'Aug','165':'Sep','186':'Oct','209':'Nov'}[''+datum.value]","title":null,"grid":false,"ticks":false,"domain":false,"labelFont":"Noto Sans","labelFontSize":13.5,"labelColor":{"condition":{"test":"datum.value==0","value":"#c9cbd1"},"value":"#a3a6af"},"labelFontWeight":{"condition":{"test":"datum.value==0","value":"bold"},"value":"normal"},"labelPadding":10,"labelOverlap":false,"labelFlush":false}},"x2":{"datum":216.3}}},
{"data":{"name":"months"},"mark":{"type":"rule","color":"#242833","strokeWidth":1},"encoding":{"x":{"field":"i","type":"quantitative"},"y":{"datum":72.52},"y2":{"datum":36.15}}}
]},
{"layer":[
{"data":{"name":"bars"},"mark":{"type":"bar","size":5,"orient":"vertical"},"encoding":{"x":{"field":"i","type":"quantitative"},"y":{"field":"v","type":"quantitative","scale":{"domain":[-1.495,31.12],"nice":false},"axis":null},"color":{"field":"s","type":"nominal","legend":null,"scale":{"domain":["up","down","ema10","ema21","ema50","ema200","hi","lo","tagRed","tagPink","tagGrey"],"range":["#2962FF","#F23645","#5EAE62","#F096B0","#F23645","#BDBDBD","#5B9CF6","#E27A7A","#F23645","#F48FB1","#B8B8B8"]}}}},
{"data":{"values":[{"t":"4.65M","v":4.65,"s":"tagRed"}]},"layer":[
{"mark":{"type":"bar","orient":"horizontal","size":21,"cornerRadius":2},"encoding":{"y":{"field":"v","type":"quantitative","axis":null},"x":{"datum":216.5},"x2":{"datum":225.2},"color":{"field":"s","type":"nominal","legend":null}}},
{"mark":{"type":"text","font":"Noto Sans","fontSize":14,"fontWeight":"bold","color":"#ffffff"},"encoding":{"y":{"field":"v","type":"quantitative","axis":null},"x":{"datum":220.9},"text":{"field":"t"}}}
]},
{"data":{"values":[{"i":206}]},"mark":{"type":"point","shape":"circle","size":400,"filled":true,"fill":"#131722","stroke":"#9C27B0","strokeWidth":2,"opacity":1},"encoding":{"x":{"field":"i","type":"quantitative"},"y":{"datum":0.75}}},
{"data":{"name":"badges"},"transform":[{"filter":"datum.k==='E'"}],"layer":[
{"mark":{"type":"point","shape":"M0,-1.1 L1,-0.52 L1,1 L-1,1 L-1,-0.52 Z","size":650,"filled":true,"fill":"#0d1117","stroke":"#0a0c10","strokeWidth":2,"opacity":1},"encoding":{"x":{"field":"i","type":"quantitative"},"y":{"datum":0.75}}},
{"mark":{"type":"point","shape":"M0,-1.1 L1,-0.52 L1,1 L-1,1 L-1,-0.52 Z","size":510,"filled":true,"fill":"#0d1a1f","stroke":"#0b7a63","strokeWidth":2,"opacity":1},"encoding":{"x":{"field":"i","type":"quantitative"},"y":{"datum":0.75}}},
{"mark":{"type":"text","font":"Noto Sans","fontSize":13,"fontWeight":"bold","color":"#0b8a6f"},"encoding":{"x":{"field":"i","type":"quantitative"},"y":{"datum":0.75},"text":{"field":"k"}}}
]},
{"data":{"name":"badges"},"transform":[{"filter":"datum.k==='D'"}],"layer":[
{"mark":{"type":"point","shape":"circle","size":520,"filled":true,"fill":"#0d1117","stroke":"#1c4fd0","strokeWidth":2,"opacity":1},"encoding":{"x":{"field":"i","type":"quantitative"},"y":{"datum":0.75}}},
{"mark":{"type":"text","font":"Noto Sans","fontSize":13,"fontWeight":"bold","color":"#1f55dd"},"encoding":{"x":{"field":"i","type":"quantitative"},"y":{"datum":0.75},"text":{"field":"k"}}}
]}
],"resolve":{"scale":{"y":"shared"}}},
{"layer":[
{"data":{"name":"lines"},"mark":{"type":"line","strokeWidth":2.4,"interpolate":"monotone","clip":true},"encoding":{"x":{"field":"i","type":"quantitative"},"y":{"field":"p","type":"quantitative","scale":{"domain":[34.41,72.52],"nice":false,"zero":false},"axis":null},"detail":{"field":"s"},"color":{"field":"s","type":"nominal","legend":null},"order":{"field":"i"}}},
{"data":{"values":[{"p":50.39,"a":-3.47,"b":209.1}]},"mark":{"type":"rule","color":"#F23645","strokeWidth":1,"strokeDash":[1,3]},"encoding":{"x":{"field":"a","type":"quantitative"},"x2":{"field":"b"},"y":{"field":"p","type":"quantitative","axis":null}}},
{"data":{"name":"levels"},"mark":{"type":"rule","color":"#FFF59D","strokeWidth":1,"strokeDash":[6,7]},"encoding":{"x":{"field":"a","type":"quantitative"},"x2":{"field":"b"},"y":{"field":"p","type":"quantitative","axis":null}}},
{"data":{"name":"bars"},"mark":{"type":"rule","strokeWidth":1},"encoding":{"x":{"field":"i","type":"quantitative"},"y":{"field":"h","type":"quantitative","axis":null},"y2":{"field":"l"},"color":{"field":"s","type":"nominal","legend":null}}},
{"data":{"name":"bars"},"mark":{"type":"bar","size":5,"orient":"vertical"},"encoding":{"x":{"field":"i","type":"quantitative"},"y":{"field":"o","type":"quantitative","axis":null},"y2":{"field":"c"},"color":{"field":"s","type":"nominal","legend":null}}},
{"data":{"name":"labels"},"mark":{"type":"text","font":"Noto Sans","fontSize":14,"clip":true},"encoding":{"x":{"field":"i","type":"quantitative"},"y":{"field":"p","type":"quantitative","axis":null},"text":{"field":"t"},"color":{"field":"s","type":"nominal","legend":null}}},
{"data":{"name":"arrow"},"mark":{"type":"rule","color":"#FFEB3B","strokeWidth":3},"encoding":{"x":{"field":"a","type":"quantitative"},"x2":{"field":"b"},"y":{"field":"p","type":"quantitative","axis":null},"y2":{"field":"q"}}},
{"data":{"name":"tags"},"transform":[{"filter":"datum.s==='tagPink'"}],"layer":[
{"mark":{"type":"bar","orient":"horizontal","size":21,"cornerRadius":2},"encoding":{"y":{"field":"p","type":"quantitative","axis":null},"x":{"datum":216.5},"x2":{"datum":225.2},"color":{"field":"s","type":"nominal","legend":null}}},
{"mark":{"type":"text","font":"Noto Sans","fontSize":14,"color":"#131722"},"encoding":{"y":{"field":"p","type":"quantitative","axis":null},"x":{"datum":220.9},"text":{"field":"t"}}}
]},
{"data":{"name":"tags"},"transform":[{"filter":"datum.s!=='tagPink'"}],"layer":[
{"mark":{"type":"bar","orient":"horizontal","size":21,"cornerRadius":2},"encoding":{"y":{"field":"p","type":"quantitative","axis":null},"x":{"datum":216.5},"x2":{"datum":225.2},"color":{"field":"s","type":"nominal","legend":null}}},
{"mark":{"type":"text","font":"Noto Sans","fontSize":14,"fontWeight":"bold"},"encoding":{"y":{"field":"p","type":"quantitative","axis":null},"x":{"datum":220.9},"text":{"field":"t"},"color":{"condition":{"test":"datum.s==='tagRed'","value":"#ffffff"},"value":"#131722"}}}
]},
{"data":{"values":[{"t":"CAKE","p":50.39,"s":"tagRed"}]},"layer":[
{"mark":{"type":"bar","orient":"horizontal","size":21,"cornerRadius":2},"encoding":{"y":{"field":"p","type":"quantitative","axis":null},"x":{"datum":209.1},"x2":{"datum":216.4},"color":{"field":"s","type":"nominal","legend":null}}},
{"mark":{"type":"text","font":"Noto Sans","fontSize":14,"color":"#ffffff"},"encoding":{"y":{"field":"p","type":"quantitative","axis":null},"x":{"datum":212.7},"text":{"field":"t"}}}
]},
{"data":{"values":[{"t":"TradingView","p":32.45}]},"layer":[
{"mark":{"type":"text","align":"left","font":"Inter","fontSize":25,"fontWeight":600,"color":"#dedede"},"encoding":{"x":{"datum":4.43},"y":{"field":"p","type":"quantitative","axis":null},"text":{"field":"t"}}},
{"mark":{"type":"point","shape":"M-0.99,-0.5 L-0.18,-0.5 L-0.18,0.49 L-0.58,0.49 L-0.58,-0.13 L-0.99,-0.13 Z M-0.05,-0.32 a0.16,0.16 0 1,0 0.32,0 a0.16,0.16 0 1,0 -0.32,0 Z M0.38,-0.5 L0.99,-0.5 L0.59,0.49 L0.14,0.49 Z","size":1369,"filled":true,"fill":"#dedede","stroke":null,"opacity":1},"encoding":{"x":{"datum":-0.08},"y":{"field":"p","type":"quantitative","axis":null}}}
]}
],"resolve":{"scale":{"y":"shared"}}}
]}
